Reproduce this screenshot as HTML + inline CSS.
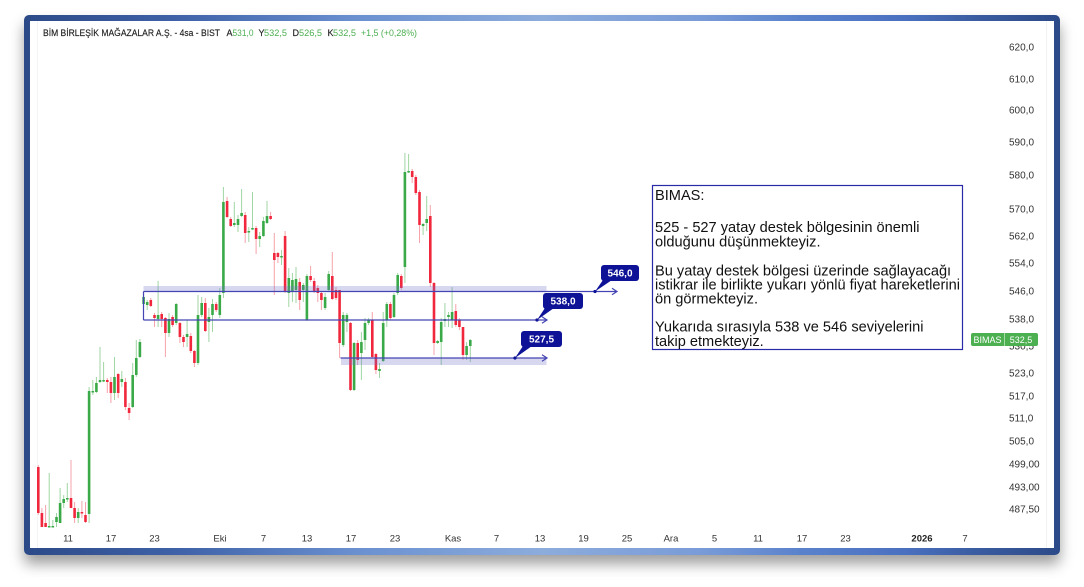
<!DOCTYPE html>
<html><head><meta charset="utf-8">
<style>
html,body{margin:0;padding:0;background:#fff;}
body{width:1084px;height:587px;position:relative;overflow:hidden;}
.frame{position:absolute;left:24px;top:15px;width:1036px;height:540px;border-radius:5px;
background:linear-gradient(90deg,#2c4a88 0%,#3f62a8 15%,#6a90d0 32%,#8cacdc 50%,#7a9cd8 65%,#5a82cc 75%,#4a70c0 85%,#3a5ca0 92%,#2c4a88 100%);
box-shadow:0 9px 14px rgba(0,0,0,.38);}
.inner{position:absolute;left:30px;top:21px;width:1024px;height:527px;background:#fff;}
svg{position:absolute;left:0;top:0;}
text{font-family:"Liberation Sans",Arial,sans-serif;}
</style></head><body>
<div class="frame"></div>
<div class="inner"></div>
<svg width="1084" height="587" viewBox="0 0 1084 587">
<line x1="1046.5" y1="21" x2="1046.5" y2="548" stroke="#f2f2f2" stroke-width="1"/>
<line x1="37.5" y1="21" x2="37.5" y2="548" stroke="#f4f4f4" stroke-width="1"/>

<!-- header -->
<text x="43" y="36" font-size="9" fill="#222" stroke="#222" stroke-width="0.15" textLength="177" lengthAdjust="spacingAndGlyphs">BİM BİRLEŞİK MAĞAZALAR A.Ş. - 4sa - BIST</text>
<g font-size="9" fill="#222">
<text x="226.5" y="36" stroke="#222" stroke-width="0.15">A</text>
<text x="232.5" y="36" fill="#4caf50" textLength="21" lengthAdjust="spacingAndGlyphs">531,0</text>
<text x="258.5" y="36" stroke="#222" stroke-width="0.15">Y</text>
<text x="264" y="36" fill="#4caf50" textLength="23" lengthAdjust="spacingAndGlyphs">532,5</text>
<text x="292.5" y="36" stroke="#222" stroke-width="0.15">D</text>
<text x="299" y="36" fill="#4caf50" textLength="23" lengthAdjust="spacingAndGlyphs">526,5</text>
<text x="327.5" y="36" stroke="#222" stroke-width="0.15">K</text>
<text x="333" y="36" fill="#4caf50" textLength="23" lengthAdjust="spacingAndGlyphs">532,5</text>
<text x="361" y="36" fill="#4caf50" textLength="56" lengthAdjust="spacingAndGlyphs">+1,5 (+0,28%)</text>
</g>

<!-- wicks -->
<path fill="none" stroke="#9fd6a3" stroke-width="1" d="M49.2 473V527M52.8 520V527M56.5 513V527M60.1 488V523M63.7 495V508M67.3 483V502M78.2 508V523M89.1 387V523M92.8 380V395M96.4 377V393M100 347V383M103.6 362V382M114.5 357V400M121.8 371V387M132.7 363V408M136.3 340V377M139.9 339V358M143.6 293V307M147.2 300V310M158.1 281V327M169 313V337M176.2 303V325M187.1 320V347M198 295V365M201.7 297V317M208.9 308V342M212.5 299V332M219.8 288V318M223.4 187V298M234.3 202V227M238 215V232M241.6 189V217M248.8 227V242M252.5 192V230M259.7 232V247M263.4 217V237M267 201V224M281.5 250V265M288.8 268V307M292.4 273V302M296 267V303M303.3 283V302M306.9 274V321M325.1 293V310M328.7 271V292M343.2 312V347M346.9 313V332M354.1 342V391M361.4 332V380M365 318V350M368.6 318V325M379.5 363V378M383.2 312V362M386.8 302V327M394 293V318M397.7 273V295M404.9 153V283M408.6 154V173M423.1 223V235M426.7 196V231M437.6 340V344M441.2 318V365M444.9 303V327M448.5 312V327M452.1 287V328M466.6 342V360M470.3 339V362"/>
<path fill="none" stroke="#f6a3aa" stroke-width="1" d="M38.3 465V515M41.9 508V527M45.6 505V527M71 460V508M74.6 502V523M81.9 501V518M85.5 502V523M107.3 378V393M110.9 377V403M118.2 373V398M125.4 378V410M129.1 403V420M150.8 298V307M154.5 313V327M161.7 312V327M165.4 317V357M172.6 315V327M179.9 322V343M183.5 335V347M190.8 333V353M194.4 350V367M205.3 298V332M216.2 302V312M227.1 197V218M230.7 217V227M245.2 212V243M256.1 226V254M270.6 212V220M274.3 233V295M277.9 252V263M285.1 231V293M299.7 278V310M310.6 266V282M314.2 278V293M317.8 285V302M321.4 292V310M332.3 252V300M336 287V300M339.6 290V358M350.5 322V391M357.7 340V365M372.3 312V358M375.9 353V374M390.4 302V320M401.3 274V290M412.2 169V183M415.8 175V195M419.5 190V243M430.3 205V287M434 282V355M455.8 304V327M459.4 318V330M463 327V360"/>

<!-- bodies -->
<path fill="#3aaa48" d="M47.9 526h2.6V527.5h-2.6zM51.5 526h2.6V527.5h-2.6zM55.2 517h2.6V522h-2.6zM58.8 503h2.6V523h-2.6zM62.4 499h2.6V503h-2.6zM66 498h2.6V499.5h-2.6zM76.9 512h2.6V518h-2.6zM87.8 391h2.6V514h-2.6zM91.5 391h2.6V392.5h-2.6zM95.1 383h2.6V392h-2.6zM98.7 380h2.6V382h-2.6zM102.3 380h2.6V381.5h-2.6zM113.2 377h2.6V393h-2.6zM120.5 379h2.6V382h-2.6zM131.4 375h2.6V407h-2.6zM135 358h2.6V375h-2.6zM138.6 342h2.6V357h-2.6zM142.3 297h2.6V304h-2.6zM145.9 302h2.6V305h-2.6zM156.8 315h2.6V319h-2.6zM167.7 319h2.6V333h-2.6zM174.9 304h2.6V323h-2.6zM185.8 334h2.6V337h-2.6zM196.7 315h2.6V363h-2.6zM200.4 303h2.6V315h-2.6zM207.6 317h2.6V322h-2.6zM211.2 304h2.6V315h-2.6zM218.5 295h2.6V315h-2.6zM222.1 202h2.6V293h-2.6zM233 223h2.6V225h-2.6zM236.7 219h2.6V225h-2.6zM240.3 213h2.6V216h-2.6zM247.5 231h2.6V232.5h-2.6zM251.2 228h2.6V229.5h-2.6zM258.4 236h2.6V239h-2.6zM262.1 221h2.6V236h-2.6zM265.7 216h2.6V223h-2.6zM280.2 256h2.6V257.5h-2.6zM287.5 278h2.6V293h-2.6zM291.1 280h2.6V292h-2.6zM294.7 279h2.6V290h-2.6zM302 285h2.6V290h-2.6zM305.6 276h2.6V320h-2.6zM323.8 297h2.6V308h-2.6zM327.4 274h2.6V290h-2.6zM341.9 315h2.6V345h-2.6zM345.6 315h2.6V322h-2.6zM352.8 343h2.6V390h-2.6zM360.1 342h2.6V353h-2.6zM363.7 323h2.6V340h-2.6zM367.3 320h2.6V323h-2.6zM378.2 369h2.6V371h-2.6zM381.9 323h2.6V361h-2.6zM385.5 304h2.6V320h-2.6zM392.7 295h2.6V317h-2.6zM396.4 275h2.6V293h-2.6zM403.6 172h2.6V267h-2.6zM407.3 171h2.6V172.5h-2.6zM421.8 224h2.6V226h-2.6zM425.4 219h2.6V223h-2.6zM436.3 341h2.6V343h-2.6zM439.9 322h2.6V342h-2.6zM443.6 319h2.6V321h-2.6zM447.2 315h2.6V317h-2.6zM450.8 312h2.6V320h-2.6zM465.3 346h2.6V355h-2.6zM469 340h2.6V346h-2.6z"/>
<path fill="#f1283d" d="M37 467h2.6V513h-2.6zM40.6 513h2.6V527h-2.6zM44.3 523h2.6V527h-2.6zM69.7 498h2.6V508h-2.6zM73.3 508h2.6V518h-2.6zM80.6 512h2.6V513.5h-2.6zM84.2 515h2.6V522h-2.6zM106 380h2.6V382h-2.6zM109.6 382h2.6V393h-2.6zM116.9 374h2.6V393h-2.6zM124.1 382h2.6V407h-2.6zM127.8 408h2.6V413h-2.6zM149.5 300h2.6V306h-2.6zM153.2 315h2.6V318h-2.6zM160.4 314h2.6V319h-2.6zM164.1 318h2.6V333h-2.6zM171.3 317h2.6V325h-2.6zM178.6 323h2.6V337h-2.6zM182.2 337h2.6V342h-2.6zM189.5 336h2.6V351h-2.6zM193.1 351h2.6V363h-2.6zM204 303h2.6V331h-2.6zM214.9 304h2.6V310h-2.6zM225.8 201h2.6V217h-2.6zM229.4 219h2.6V226h-2.6zM243.9 215h2.6V233h-2.6zM254.8 228h2.6V239h-2.6zM269.3 216h2.6V219h-2.6zM273 253h2.6V260h-2.6zM276.6 253h2.6V257h-2.6zM283.8 236h2.6V292h-2.6zM298.4 282h2.6V300h-2.6zM309.3 276h2.6V280h-2.6zM312.9 281h2.6V292h-2.6zM316.5 288h2.6V293h-2.6zM320.1 293h2.6V300h-2.6zM331 276h2.6V299h-2.6zM334.7 290h2.6V298h-2.6zM338.3 290h2.6V343h-2.6zM349.2 323h2.6V390h-2.6zM356.4 343h2.6V360h-2.6zM371 320h2.6V357h-2.6zM374.6 354h2.6V370h-2.6zM389.1 304h2.6V318h-2.6zM400 276h2.6V288h-2.6zM410.9 171h2.6V177h-2.6zM414.5 177h2.6V193h-2.6zM418.2 192h2.6V225h-2.6zM429 216h2.6V283h-2.6zM432.7 283h2.6V343h-2.6zM454.5 311h2.6V325h-2.6zM458.1 320h2.6V327h-2.6zM461.7 327h2.6V355h-2.6z"/>

<!-- bands -->
<rect x="143.5" y="286" width="403" height="6" fill="rgba(110,110,200,0.28)"/>
<rect x="341" y="358" width="205.5" height="7" fill="rgba(110,110,200,0.28)"/>

<!-- lines -->
<g stroke="#4444b4" stroke-width="1.2" fill="none">
<path d="M143.5 291.5H617M612 288.3L617 291.5L612 294.7"/>
<path d="M143.5 320H547M542 316.8L547 320L542 323.2"/>
<path d="M143.5 291.5V320"/>
<path d="M340.5 358H547M542 354.8L547 358L542 361.2"/>
</g>

<!-- callouts -->
<g fill="#0e1296">
<rect x="601" y="265" width="38" height="16" rx="3"/>
<polygon points="603,280 612,280 595,291.5"/>
<circle cx="595" cy="291.5" r="1.6"/>
<rect x="543" y="293" width="40" height="16" rx="3"/>
<polygon points="545,308 554,308 537,320"/>
<circle cx="537" cy="320" r="1.6"/>
<rect x="521" y="331" width="41" height="16" rx="3"/>
<polygon points="523,346 532,346 515,358"/>
<circle cx="515" cy="358" r="1.6"/>
</g>
<g font-size="10" font-weight="bold" fill="#fff" text-anchor="middle">
<text x="620" y="276.5">546,0</text>
<text x="563" y="304.5">538,0</text>
<text x="541.5" y="342.5">527,5</text>
</g>

<!-- text note -->
<rect x="652.5" y="185.5" width="310" height="164" fill="#fff" stroke="#2a2aa8" stroke-width="1.2"/>
<g font-size="14.6" fill="#111">
<text x="655" y="200">BIMAS:</text>
<text x="655" y="232">525 - 527 yatay destek bölgesinin önemli</text>
<text x="655" y="246.5">olduğunu düşünmekteyiz.</text>
<text x="655" y="275.5">Bu yatay destek bölgesi üzerinde sağlayacağı</text>
<text x="655" y="289.5">istikrar ile birlikte yukarı yönlü fiyat hareketlerini</text>
<text x="655" y="303.5">ön görmekteyiz.</text>
<text x="655" y="331.5">Yukarıda sırasıyla 538 ve 546 seviyelerini</text>
<text x="655" y="346">takip etmekteyiz.</text>
</g>

<!-- price axis -->
<g font-size="10" fill="#333">
<text x="1009" y="50.5">620,0</text>
<text x="1009" y="82.5">610,0</text>
<text x="1009" y="113.5">600,0</text>
<text x="1009" y="145.5">590,0</text>
<text x="1009" y="178.5">580,0</text>
<text x="1009" y="212.5">570,0</text>
<text x="1009" y="239.5">562,0</text>
<text x="1009" y="266.5">554,0</text>
<text x="1009" y="294.5">546,0</text>
<text x="1009" y="322.5">538,0</text>
<text x="1009" y="349.5">530,5</text>
<text x="1009" y="376.5">523,0</text>
<text x="1009" y="399.5">517,0</text>
<text x="1009" y="421.5">511,0</text>
<text x="1009" y="444.5">505,0</text>
<text x="1009" y="467.5">499,00</text>
<text x="1009" y="490.5">493,00</text>
<text x="1009" y="512.5">487,50</text>
</g>
<rect x="971" y="333" width="67" height="13" rx="2" fill="#4caf50"/>
<line x1="1004.5" y1="333" x2="1004.5" y2="346" stroke="#a5dca8" stroke-width="1"/>
<g font-size="9" fill="#fff" text-anchor="middle">
<text x="987.5" y="342.8">BIMAS</text>
<text x="1021" y="342.8">532,5</text>
</g>

<!-- time axis -->
<g font-size="9.5" fill="#333" text-anchor="middle">
<text x="68" y="541.5">11</text>
<text x="111" y="541.5">17</text>
<text x="154.5" y="541.5">23</text>
<text x="220" y="541.5">Eki</text>
<text x="263.5" y="541.5">7</text>
<text x="307" y="541.5">13</text>
<text x="351" y="541.5">17</text>
<text x="395" y="541.5">23</text>
<text x="453" y="541.5">Kas</text>
<text x="496.5" y="541.5">7</text>
<text x="540" y="541.5">13</text>
<text x="583.5" y="541.5">19</text>
<text x="627" y="541.5">25</text>
<text x="671" y="541.5">Ara</text>
<text x="714.5" y="541.5">5</text>
<text x="758" y="541.5">11</text>
<text x="802" y="541.5">17</text>
<text x="845.5" y="541.5">23</text>
<text x="922" y="541.5" font-weight="bold" fill="#222">2026</text>
<text x="965" y="541.5">7</text>
</g>
</svg>
</body></html>
